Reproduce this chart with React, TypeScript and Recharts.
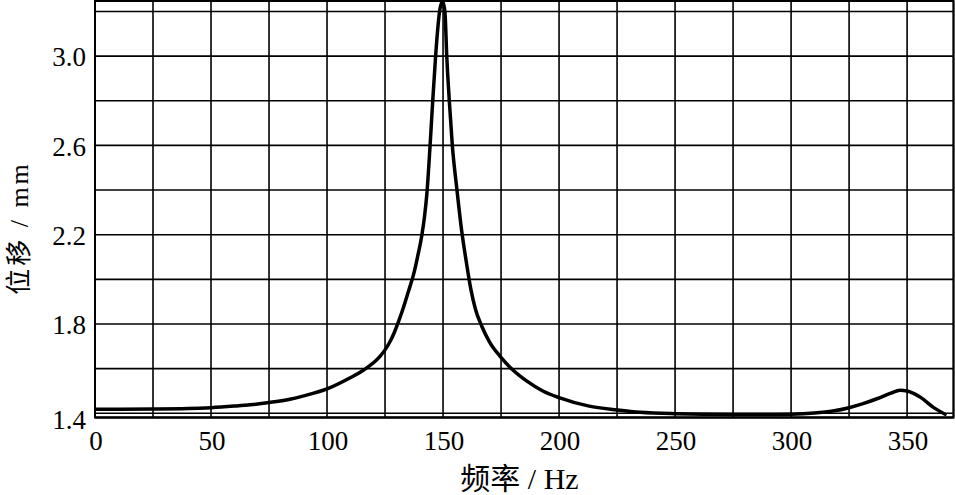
import React from 'react';
import { LineChart, Line, XAxis, YAxis, CartesianGrid, ReferenceArea, Label } from 'recharts';

const freq = [0, 25, 40, 50, 60, 67, 75, 84, 90, 100, 110, 115, 118, 121, 123, 125, 127, 129, 131, 133, 135, 137.5, 139, 140.9, 142, 143.0, 144.3, 145.5, 146.8, 147.7, 148.5, 149.8, 150.8, 151.6, 152.7, 154.0, 156, 158, 160, 162, 164, 166.7, 170, 174.6, 180, 186, 193, 200, 213, 225, 235, 250, 275, 290, 300, 310, 318, 325, 331, 337, 343, 347, 350, 353, 356, 361.5, 367];
const disp = [1.418, 1.419, 1.421, 1.425, 1.432, 1.438, 1.448, 1.463, 1.478, 1.509, 1.559, 1.588, 1.61, 1.635, 1.657, 1.684, 1.718, 1.762, 1.816, 1.876, 1.943, 2.03, 2.1, 2.2, 2.28, 2.38, 2.58, 2.79, 3.0, 3.12, 3.2, 3.245, 3.2, 3.0, 2.8, 2.6, 2.4, 2.22, 2.08, 1.955, 1.865, 1.79, 1.72, 1.655, 1.595, 1.545, 1.5, 1.47, 1.432, 1.415, 1.404, 1.398, 1.395, 1.395, 1.396, 1.401, 1.41, 1.425, 1.443, 1.465, 1.49, 1.503, 1.5, 1.488, 1.47, 1.425, 1.392];

const xTicks = [0, 25, 50, 75, 100, 125, 150, 175, 200, 225, 250, 275, 300, 325, 350];
const xTickLabels = [0, 50, 100, 150, 200, 250, 300, 350];
const yTicks = [1.4, 1.6, 1.8, 2.0, 2.2, 2.4, 2.6, 2.8, 3.0, 3.2];
const yTickLabels = ['1.4', '1.8', '2.2', '2.6', '3.0'];
const xDomain: [number, number] = [0, 370];
const yDomain: [number, number] = [1.381, 3.247];
const xTitle = '频率 / Hz';
const yTitle = '位移 / mm';

const data = freq.map((f, i) => ({ f, d: disp[i] }));

const FONT = "'Liberation Serif', 'Times New Roman', 'Noto Sans CJK SC', serif";

const XTick = (props: any) => {
  const { x, y, payload } = props;
  if (!xTickLabels.includes(payload.value)) return null;
  return (
    <text x={x + 1} y={y + 32.5} textAnchor="middle" fontFamily={FONT} fontSize={27} fill="#000">
      {String(payload.value)}
    </text>
  );
};

const YTick = (props: any) => {
  const { x, y, payload } = props;
  const lab = payload.value.toFixed(1);
  if (!yTickLabels.includes(lab)) return null;
  const dy = lab === '1.4' ? 16 : 10.3;
  return (
    <text x={x - 9} y={y + dy} textAnchor="end" fontFamily={FONT} fontSize={27} fill="#000">
      {lab}
    </text>
  );
};

export default function App() {
  return (
    <div style={{ position: 'absolute', left: 0, top: 0, background: '#fff' }}>
      <LineChart width={955} height={495} data={data} margin={{ top: 1, right: 1.5, left: 0, bottom: 0 }}>
        <CartesianGrid stroke="#000" strokeWidth={1.6} />
        <XAxis
          dataKey="f"
          type="number"
          domain={xDomain}
          ticks={xTicks}
          interval={0}
          height={77.5}
          tickSize={0}
          tickMargin={0}
          tickLine={false}
          axisLine={{ stroke: '#000', strokeWidth: 2 }}
          tick={<XTick />}
          allowDataOverflow
        >
          <Label
            content={() => (
              <text x={519.5} y={489} textAnchor="middle" fontFamily={FONT} fontSize={30} fill="#000">
                {xTitle}
              </text>
            )}
          />
        </XAxis>
        <YAxis
          type="number"
          domain={yDomain}
          ticks={yTicks}
          interval={0}
          width={95}
          tickSize={0}
          tickMargin={0}
          tickLine={false}
          axisLine={{ stroke: '#000', strokeWidth: 2 }}
          tick={<YTick />}
          allowDataOverflow
        >
          <Label
            content={() => (
              <text
                x={28}
                y={228}
                textAnchor="middle"
                transform="rotate(-90, 28, 228)"
                fontFamily={FONT}
                fontSize={26}
                letterSpacing={3}
                fill="#000"
              >
                {yTitle}
              </text>
            )}
          />
        </YAxis>
        <ReferenceArea
          x1={xDomain[0]}
          x2={xDomain[1]}
          y1={yDomain[0]}
          y2={yDomain[1]}
          fill="none"
          fillOpacity={0}
          stroke="#000"
          strokeWidth={2}
          ifOverflow="visible"
        />
        <Line
          type="monotone"
          dataKey="d"
          stroke="#000"
          strokeWidth={3.5}
          dot={false}
          isAnimationActive={false}
        />
      </LineChart>
    </div>
  );
}
